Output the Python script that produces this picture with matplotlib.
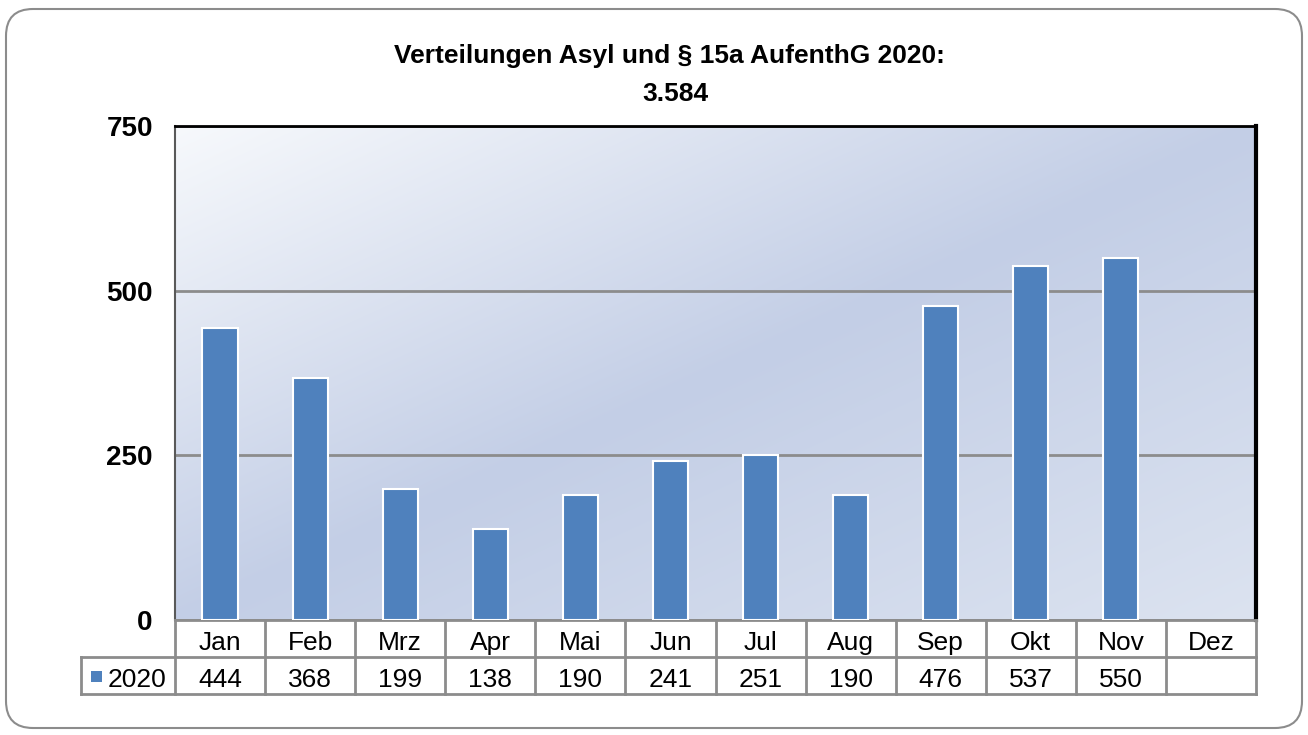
import numpy as np
import matplotlib
matplotlib.use("Agg")
import matplotlib.pyplot as plt
from matplotlib.patches import FancyBboxPatch, Rectangle
from matplotlib.transforms import IdentityTransform, blended_transform_factory

# data
months = ["Jan", "Feb", "Mrz", "Apr", "Mai", "Jun", "Jul", "Aug", "Sep", "Okt", "Nov", "Dez"]
values_2020 = [444, 368, 199, 138, 190, 241, 251, 190, 476, 537, 550, None]
series_name = "2020"
title_line1 = "Verteilungen Asyl und § 15a AufenthG 2020:"
title_line2 = "3.584"
y_ticks = [0, 250, 500, 750]

plt.rcParams['font.family'] = ['Liberation Sans', 'DejaVu Sans']

W, H = 1308, 735
fig = plt.figure(figsize=(W / 100, H / 100), dpi=100)

# rounded outer frame (pixel coords)
frame = FancyBboxPatch((6, 7), 1296, 719, boxstyle="round,pad=0,rounding_size=27",
                       transform=IdentityTransform(), facecolor='white',
                       edgecolor='#8c8c8c', linewidth=1.5, zorder=-1)
fig.add_artist(frame)

# plot area
left, right, top, bottom = 175, 1256, 126, 620
ax = fig.add_axes([left / W, 1 - bottom / H, (right - left) / W, (bottom - top) / H])

# diagonal gradient background
def hex2rgb(h):
    h = h.lstrip('#')
    return [int(h[i:i + 2], 16) / 255 for i in (0, 2, 4)]

stops_t = [0.0, 0.5, 1.0]
stops_c = [hex2rgb('#f7f9fc'), hex2rgb('#c3cee6'), hex2rgb('#dce3f0')]
n = 300
U, V = np.meshgrid(np.linspace(0, 1, n), np.linspace(0, 1, n))
t = (U + V) / 2
img = np.stack([np.interp(t, stops_t, [c[i] for c in stops_c]) for i in range(3)], axis=-1)
ax.imshow(img, extent=(0, 1, 0, 1), transform=ax.transAxes, aspect='auto',
          origin='upper', interpolation='bilinear', zorder=0)

# bars
x = np.arange(len(months))
vals = np.array([np.nan if v is None else v for v in values_2020], dtype=float)
ax.bar(x, vals, width=0.39, color='#4f81bd', edgecolor='white', linewidth=1.5, zorder=3)

# axes styling
ax.set_yticks(y_ticks)
ax.set_yticklabels([str(v) for v in y_ticks], fontweight='bold')
ax.tick_params(axis='y', length=0, pad=16, labelsize=20)
ax.set_xticks([])
ax.yaxis.grid(True, color='#8c8c8c', linewidth=2)
ax.set_axisbelow(True)
ax.spines['top'].set_color('black')
ax.spines['top'].set_linewidth(2)
ax.spines['right'].set_color('black')
ax.spines['right'].set_linewidth(3)
ax.spines['left'].set_color('#595959')
ax.spines['left'].set_linewidth(1.5)
ax.spines['bottom'].set_color('#8c8c8c')
ax.spines['bottom'].set_linewidth(2)

# data table below the plot
tr = blended_transform_factory(ax.transData, ax.transAxes)
ph = bottom - top
row_h = 37 / ph
cat_w = (right - left) / 12
leg_left = (81 - left) / cat_w - 0.5
line_kw = dict(color='#8c8c8c', linewidth=2, transform=tr, clip_on=False, zorder=5)

ax.plot([leg_left, 11.5], [-row_h, -row_h], **line_kw)
ax.plot([leg_left, 11.5], [-2 * row_h, -2 * row_h], **line_kw)
for k in range(13):
    ax.plot([k - 0.5, k - 0.5], [0, -2 * row_h], **line_kw)
ax.plot([leg_left, leg_left], [-row_h, -2 * row_h], **line_kw)

hdr_base = (bottom - 650) / ph
val_base = (bottom - 687) / ph
for i, m in enumerate(months):
    ax.text(i, hdr_base, m, transform=tr, ha='center', va='baseline', fontsize=19, clip_on=False)
    if values_2020[i] is not None:
        ax.text(i, val_base, str(values_2020[i]), transform=tr, ha='center', va='baseline',
                fontsize=19, clip_on=False)

# legend key in the table
fig.add_artist(Rectangle((91, H - 682), 11, 11, transform=IdentityTransform(),
                         facecolor='#4f81bd', edgecolor='none', zorder=2))
ax.text((108 - left) / cat_w - 0.5, val_base, series_name, transform=tr,
        ha='left', va='baseline', fontsize=19, clip_on=False)

ax.set_xlim(-0.5, 11.5)
ax.set_ylim(0, 750)

# title
fig.text(669 / W, 1 - 63 / H, title_line1, ha='center', va='baseline', fontsize=19, fontweight='bold')
fig.text(675 / W, 1 - 101 / H, title_line2, ha='center', va='baseline', fontsize=19, fontweight='bold')

fig.savefig('out.png', dpi=100)
